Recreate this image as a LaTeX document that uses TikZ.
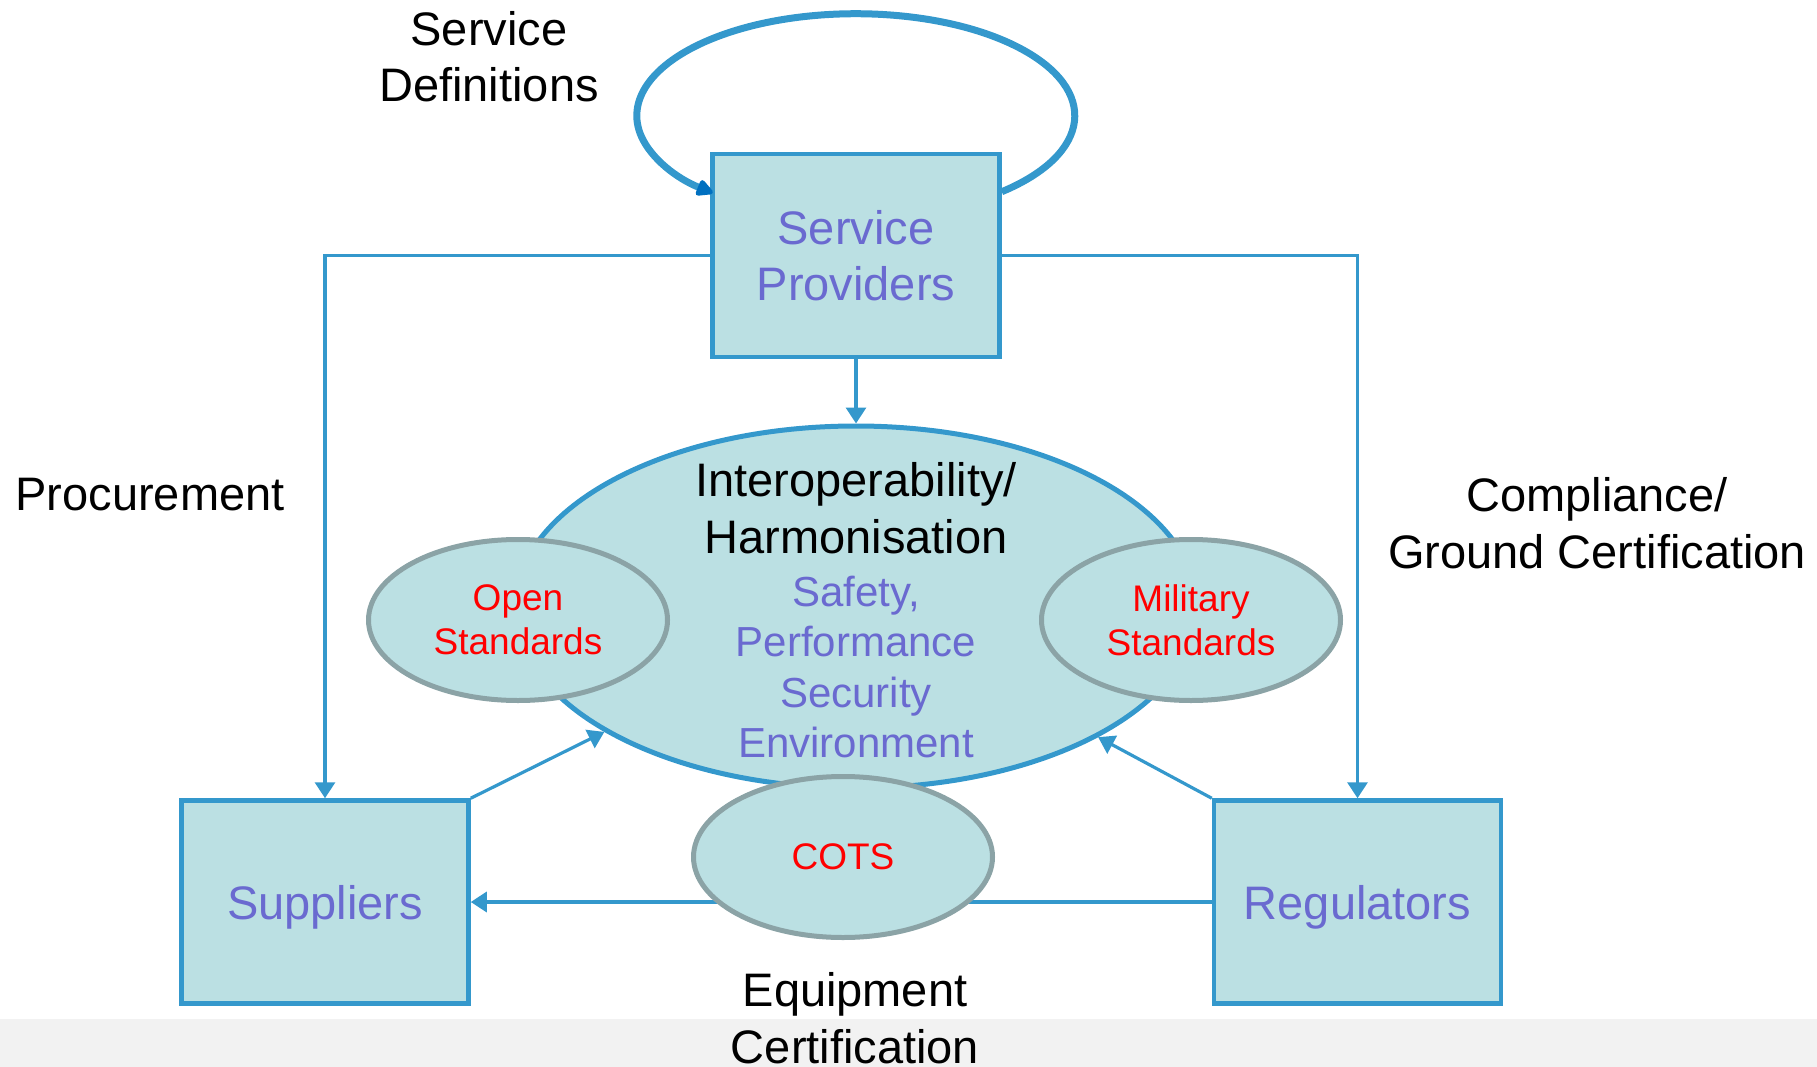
\documentclass[tikz,border=0pt]{standalone}
\usepackage{fontspec}
\setmainfont{Liberation Sans}
\usetikzlibrary{shapes.geometric,arrows.meta,calc}
\definecolor{lineblue}{RGB}{52,152,204}
\definecolor{fillc}{RGB}{187,224,227}
\definecolor{ellgray}{RGB}{139,163,166}
\definecolor{txtblue}{RGB}{106,106,208}
\definecolor{tipblue}{RGB}{0,112,192}
\definecolor{bandgray}{RGB}{242,242,242}
\begin{document}
\begin{tikzpicture}[x=1pt,y=-1pt,
  box/.style={draw=lineblue,line width=4.5pt,fill=fillc,minimum width=287pt,minimum height=203pt,inner sep=0pt,text=txtblue,font=\fontsize{47}{56.4}\selectfont,align=center},
  mainell/.style={ellipse,draw=lineblue,line width=5pt,fill=fillc,minimum width=682pt,minimum height=362pt,inner sep=0pt},
  stdell/.style={ellipse,draw=ellgray,line width=5pt,fill=fillc,minimum width=299pt,minimum height=161pt,inner sep=0pt,text=red,font=\fontsize{37}{44.4}\selectfont,align=center},
  blk/.style={inner sep=0pt,align=center,text=black,font=\fontsize{47}{56.4}\selectfont},
  blu/.style={inner sep=0pt,align=center,text=txtblue,font=\fontsize{42}{50.6}\selectfont},
  conn/.style={draw=lineblue,line width=3.2pt,-{Triangle[length=16pt,width=20pt]}},
  loopst/.style={draw=lineblue,line width=7pt,-{Triangle[length=19pt,width=18pt,color=tipblue,round]}}
]
\useasboundingbox (0,0) rectangle (1817,1067);
\fill[bandgray] (0,1019) rectangle (1817,1067);

% boxes
\node[box] (sp) at (856,255.5) {Service\\Providers};
\node[box,text depth=0pt] (sup) at (325,902) {Suppliers};
\node[box,text depth=0pt] (reg) at (1357.5,902) {Regulators};

% main ellipse and satellites
\node[mainell] (main) at (856,607) {};
\node[stdell] (open) at (518,620) {Open\\Standards};
\node[stdell] (mil) at (1191,620) {Military\\Standards};

\node[blk] (t1) at (856,508) {Interoperability/\\Harmonisation};
\node[blu] (t2) at (856,667) {Safety,\\Performance\\Security\\Environment};

% horizontal connector behind COTS
\draw[conn] (reg.west) -- (sup.east);
\node[stdell] (cots) at (843,857) {COTS};

% connectors
\draw[conn] (sp.west) -| (sup.north);
\draw[conn] (sp.east) -| (reg.north);
\draw[conn] (sp.south) -- (main.north);
\draw[conn] (sup.north east) -- (main);
\draw[conn] (reg.north west) -- (main);

% self loop
\draw[loopst] ([yshift=-40pt]sp.north east) arc[start angle=-48.2,end angle=229.2,x radius=219pt,y radius=102pt];

% labels
\node[blk] (lsd) at (489,57) {Service\\Definitions};
\node[blk] (lproc) at (150,495) {Procurement};
\node[blk] (lcomp) at (1597,523) {Compliance/\\Ground Certification};
\node[blk] (leq) at (855,1018) {Equipment\\Certification};
\end{tikzpicture}
\end{document}
